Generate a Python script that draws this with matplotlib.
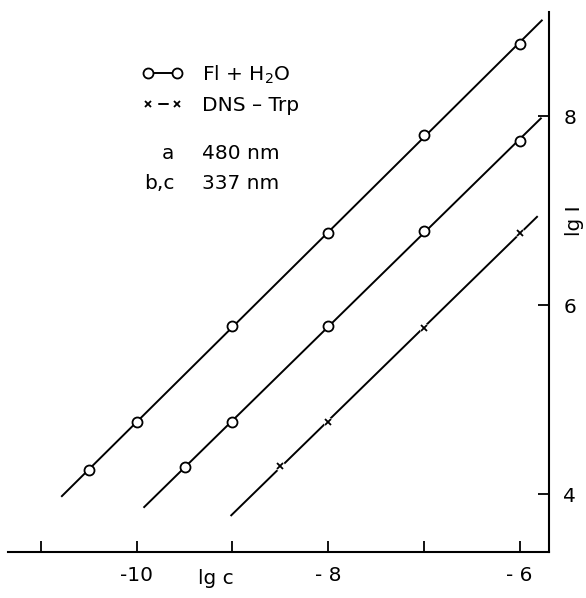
import numpy as np
import matplotlib
matplotlib.use('Agg')
import matplotlib.pyplot as plt
from matplotlib.lines import Line2D

plt.rcParams['font.family'] = ['DejaVu Sans']
plt.rcParams['mathtext.fontset'] = 'dejavusans'
plt.rcParams['lines.scale_dashes'] = False

# measured points (lg c, lg I)
lgc_a = [-10.5, -10, -9, -8, -7, -6]
lgI_a = [4.26, 4.76, 5.78, 6.76, 7.80, 8.76]
lgc_b = [-9.5, -9, -8, -7, -6]
lgI_b = [4.29, 4.76, 5.78, 6.78, 7.74]
lgc_c = [-8.5, -8, -7, -6]
lgI_c = [4.30, 4.76, 5.76, 6.76]

# x range covered by each fitted straight line
span_a = [-10.79, -5.76]
span_b = [-9.93, -5.77]
span_c = [-9.02, -5.81]

xticks = [-11, -10, -9, -8, -7, -6]
xticklabels = ['', '-10', '', '- 8', '', '- 6']
yticks = [4, 6, 8]
yticklabels = ['4', '6', '8']

series_labels = ['Fl + H$_2$O', 'DNS – Trp']
notes = [('a', '480 nm'), ('b,c', '337 nm')]

W, H = 586, 598
FS = 14.5
LW = 1.4


def fx(px):
    return px / W


def fy(py):
    return 1 - py / H


def fit_line(x, y, span):
    p = np.polyfit(x, y, 1)
    xs = np.array(span)
    return xs, np.polyval(p, xs)


fig = plt.figure(figsize=(W / 100, H / 100), dpi=100)
ax = fig.add_axes([fx(8.2), fy(552.4), fx(548.7) - fx(8.2), fy(12) - fy(552.4)])

# fitted lines
for x, y, span in [(lgc_a, lgI_a, span_a), (lgc_b, lgI_b, span_b), (lgc_c, lgI_c, span_c)]:
    xs, ys = fit_line(x, y, span)
    ax.plot(xs, ys, color='black', lw=LW, solid_capstyle='butt', zorder=2)

# open circles for Fl + H2O
for x, y in [(lgc_a, lgI_a), (lgc_b, lgI_b)]:
    ax.plot(x, y, ls='none', marker='o', ms=7.2, mfc='white', mec='black', mew=1.3, zorder=3)

# crosses for DNS-Trp, line broken around each one
ax.plot(lgc_c, lgI_c, ls='none', marker='o', ms=6, mfc='white', mec='white', zorder=3)
ax.plot(lgc_c, lgI_c, ls='none', marker='x', ms=4, mew=1.3, color='black', zorder=4)

ax.set_xlim(-11.344, -5.695)
ax.set_ylim(3.385, 9.1)

for s in ['top', 'left']:
    ax.spines[s].set_visible(False)
for s in ['bottom', 'right']:
    ax.spines[s].set_linewidth(1.5)

ax.set_xticks(xticks)
ax.set_xticklabels(xticklabels)
ax.set_yticks(yticks)
ax.set_yticklabels(yticklabels)
ax.yaxis.tick_right()
ax.tick_params(axis='x', direction='in', length=8, width=1.3, pad=10, labelsize=FS)
ax.tick_params(axis='y', direction='in', length=8, width=1.3, pad=10.5, labelsize=FS)

# legend: o-o and x - x samples
h_o = Line2D([], [], color='black', lw=LW, marker='o', ms=7.2, mfc='white', mec='black', mew=1.3)
h_x = Line2D([], [], color='black', lw=LW, ls=(33.6, (7.5, 33.5)),
             marker='x', ms=4, mew=1.3)
ax.legend(handles=[h_o, h_x], labels=series_labels, numpoints=2,
          frameon=False, fontsize=FS, handlelength=2.05, handletextpad=0.92,
          labelspacing=0.5, borderpad=0, borderaxespad=0, loc='center left',
          bbox_to_anchor=(fx(142), fy(89)), bbox_transform=fig.transFigure)

for (k, wl), py in zip(notes, [153.6, 183.5]):
    fig.text(fx(174), fy(py), k, ha='right', va='center', fontsize=FS)
    fig.text(fx(202), fy(py), wl, ha='left', va='center', fontsize=FS)

fig.text(fx(216), fy(578), 'lg c', ha='center', va='center', fontsize=FS)
fig.text(fx(575), fy(221), 'lg I', ha='center', va='center', rotation=90, fontsize=FS)

fig.savefig('out.png', dpi=100)
